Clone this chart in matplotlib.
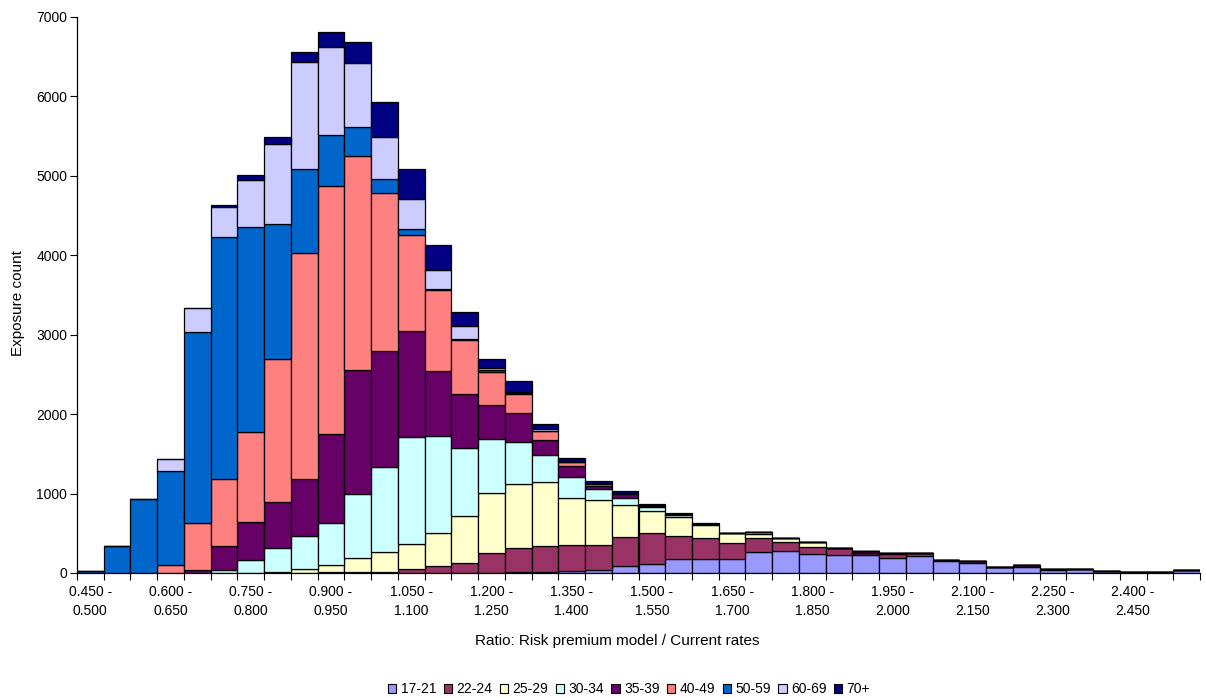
import matplotlib
matplotlib.use("Agg")
import matplotlib.pyplot as plt
from matplotlib.patches import Patch

# bins of 0.05 from 0.450 to 2.550 (42 bins)
tick_labels = ["0.450 -\n0.500", "0.600 -\n0.650", "0.750 -\n0.800", "0.900 -\n0.950",
               "1.050 -\n1.100", "1.200 -\n1.250", "1.350 -\n1.400", "1.500 -\n1.550",
               "1.650 -\n1.700", "1.800 -\n1.850", "1.950 -\n2.000", "2.100 -\n2.150",
               "2.250 -\n2.300", "2.400 -\n2.450"]

age_groups = ["17-21", "22-24", "25-29", "30-34", "35-39", "40-49", "50-59", "60-69", "70+"]

s17_21 = [0, 0, 0, 0, 0, 0, 0, 0, 0, 0,
          0, 0, 0, 0, 0, 0, 10, 10, 30, 40,
          88, 113, 176, 176, 176, 260, 277, 243, 227, 227,
          193, 214, 151, 130, 70, 80, 40, 50, 25, 8,
          8, 40]
s22_24 = [0, 0, 0, 0, 0, 0, 0, 0, 5, 10,
          10, 10, 55, 90, 130, 250, 300, 330, 320, 316,
          369, 387, 290, 261, 198, 177, 109, 88, 84, 30,
          45, 34, 13, 21, 2, 20, 6, 5, 5, 2,
          2, 0]
s25_29 = [0, 0, 0, 0, 0, 0, 0, 10, 40, 90,
          175, 250, 315, 410, 590, 760, 810, 800, 590, 564,
          400, 285, 234, 167, 126, 53, 51, 55, 0, 0,
          10, 0, 0, 0, 0, 0, 0, 0, 0, 0,
          0, 0]
s30_34 = [0, 0, 0, 0, 0, 40, 160, 310, 420, 530,
          805, 1070, 1340, 1230, 860, 680, 530, 350, 265, 140,
          84, 42, 30, 10, 0, 20, 0, 0, 0, 0,
          0, 0, 0, 0, 0, 0, 0, 0, 0, 0,
          0, 0]
s35_39 = [0, 0, 0, 0, 40, 300, 480, 580, 720, 1120,
          1570, 1460, 1340, 810, 670, 430, 370, 190, 145, 40,
          55, 15, 10, 0, 0, 0, 0, 0, 0, 20,
          0, 0, 0, 0, 0, 0, 0, 0, 0, 0,
          0, 0]
s40_49 = [0, 0, 0, 100, 590, 840, 1130, 1800, 2845, 3120,
          2690, 2000, 1210, 1020, 680, 410, 230, 110, 50, 20,
          10, 10, 0, 0, 0, 0, 0, 0, 0, 0,
          0, 0, 0, 0, 0, 0, 0, 0, 0, 0,
          0, 0]
s50_59 = [20, 340, 930, 1190, 2400, 3050, 2590, 1690, 1055, 650,
          360, 170, 70, 20, 20, 20, 10, 0, 0, 0,
          0, 0, 0, 0, 0, 0, 0, 0, 0, 0,
          0, 0, 0, 0, 0, 0, 0, 0, 0, 0,
          0, 0]
s60_69 = [0, 0, 0, 150, 310, 380, 590, 1010, 1350, 1100,
          810, 530, 380, 230, 160, 30, 20, 20, 10, 10,
          0, 0, 0, 0, 0, 0, 0, 0, 0, 0,
          0, 0, 0, 0, 0, 0, 0, 0, 0, 0,
          0, 0]
s70p = [0, 0, 0, 0, 0, 20, 60, 90, 125, 190,
        260, 440, 380, 320, 170, 120, 140, 70, 40, 30,
        25, 18, 20, 11, 0, 10, 0, 0, 0, 0,
        0, 0, 0, 0, 0, 0, 0, 0, 0, 0,
        0, 0]

series = [s17_21, s22_24, s25_29, s30_34, s35_39, s40_49, s50_59, s60_69, s70p]
colors = ["#9999FF", "#993366", "#FFFFCC", "#CCFFFF", "#660066",
          "#FF8080", "#0066CC", "#CCCCFF", "#000080"]

plt.rcParams['font.family'] = ['Liberation Sans', 'DejaVu Sans']

fig = plt.figure(figsize=(12.06, 6.98), dpi=100)
ax = fig.add_axes([77 / 1206, 1 - 573 / 698, 1123 / 1206, 556 / 698])

n = len(s17_21)
x = list(range(n))
bottom = [0] * n
for vals, col in zip(series, colors):
    ax.bar(x, vals, width=1.0, align='edge', bottom=bottom, color=col,
           edgecolor='black', linewidth=0.9)
    bottom = [b + v for b, v in zip(bottom, vals)]

ax.set_xlim(0, n)
ax.set_ylim(0, 7000)
ax.set_yticks(range(0, 7001, 1000))
ax.tick_params(axis='y', labelsize=10, length=5, width=0.8, pad=2)

ax.set_xticks([i + 0.5 for i in range(0, 40, 3)])
ax.set_xticklabels(tick_labels, fontsize=10, linespacing=1.45)
ax.set_xticks(range(0, n + 1), minor=True)
ax.tick_params(axis='x', which='major', length=0, pad=9)
ax.tick_params(axis='x', which='minor', length=5, width=0.8)

for s in ['top', 'right']:
    ax.spines[s].set_visible(False)
for s in ['left', 'bottom']:
    ax.spines[s].set_linewidth(0.9)

fig.text(617 / 1206, 1 - 641 / 698, "Ratio: Risk premium model / Current rates",
         ha='center', va='center', fontsize=11)
fig.text(18 / 1206, 1 - 303 / 698, "Exposure count", rotation=90,
         ha='center', va='center', fontsize=11)

handles = [Patch(facecolor=c, edgecolor='black', linewidth=0.8) for c in colors]
fig.legend(handles, age_groups, loc='center', bbox_to_anchor=(629 / 1206, 1 - 689 / 698),
           ncol=9, frameon=False, fontsize=10, handlelength=0.6, handleheight=0.6,
           handletextpad=0.3, columnspacing=0.55, borderpad=0)

fig.savefig("out.png", dpi=100)
